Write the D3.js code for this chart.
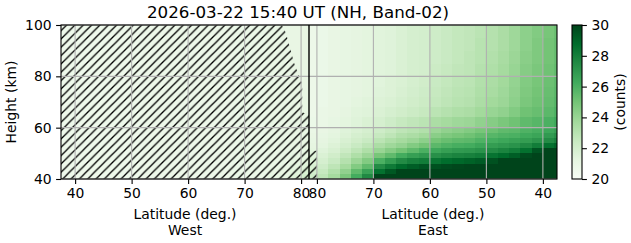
<!DOCTYPE html>
<html>
<head>
<meta charset="utf-8">
<script src="https://cdn.jsdelivr.net/npm/d3@7"></script>
<style>
  body { margin: 0; background: #fff; }
  svg { display: block; font-family: "DejaVu Sans", sans-serif; }
</style>
</head>
<body>
<svg id="chart" width="631" height="243"></svg>
<script>
const title = "2026-03-22 15:40 UT (NH, Band-02)";

const heightEdges = [40, 42, 44, 46, 48, 50, 52, 54, 56, 58, 60, 64, 68, 72, 76, 80, 85, 90, 95, 100];
const latTicks = [40, 50, 60, 70, 80];
const heightTicks = [40, 60, 80, 100];
const countTicks = [20, 22, 24, 26, 28, 30];

// west side columns (lat edges), values bottom -> top per column
const westEdges = [36, 44, 52, 60, 68, 74, 78, 80, 82];
const westCounts = [
  [20.6,20.6,20.6,20.6,20.6,20.6,20.6,20.6,20.6,20.6,20.6,20.6,20.6,20.6,20.6,20.6,20.6,20.6,20.6],
  [20.6,20.6,20.6,20.6,20.6,20.6,20.6,20.6,20.6,20.6,20.6,20.6,20.6,20.6,20.6,20.6,20.6,20.6,20.6],
  [20.7,20.7,20.7,20.7,20.7,20.7,20.7,20.7,20.7,20.7,20.7,20.7,20.7,20.7,20.7,20.7,20.7,20.7,20.7],
  [20.7,20.7,20.7,20.7,20.7,20.7,20.7,20.7,20.7,20.7,20.7,20.7,20.7,20.7,20.7,20.7,20.7,20.7,20.7],
  [20.8,20.8,20.8,20.8,20.8,20.8,20.8,20.8,20.8,20.8,20.8,20.8,20.8,20.8,20.8,20.8,20.8,20.8,20.8],
  [21.1,21.0,20.9,20.9,20.9,20.9,20.9,20.9,20.9,20.9,20.9,20.9,20.9,20.9,20.9,20.9,20.9,20.9,20.9],
  [21.6,21.4,21.3,21.2,21.1,21.0,21.0,21.0,21.0,21.0,21.0,21.0,21.0,21.0,21.0,21.0,21.0,21.0,21.0],
  [22.0,21.7,21.5,21.3,21.2,21.1,21.0,21.0,21.0,21.0,21.0,21.0,21.0,21.0,21.0,21.0,21.0,21.0,21.0]
];

// east side columns (lat edges, north -> south)
const eastEdges = [82, 80, 78, 76, 74, 72, 70, 68, 66, 64, 62, 60, 58, 56, 54, 52, 50, 48, 46, 44, 42, 40, 38, 36];
const eastCounts = [
  [22.2,22.0,21.8,21.6,21.4,21.3,21.2,21.1,21.0,20.9,20.8,20.7,20.7,20.7,20.7,20.7,20.7,20.7,20.7],
  [22.8,22.5,22.2,21.9,21.7,21.5,21.3,21.2,21.1,21.0,20.9,20.9,20.8,20.8,20.8,20.8,20.8,20.8,20.8],
  [23.6,23.2,22.8,22.4,22.1,21.8,21.6,21.4,21.3,21.2,21.1,21.0,21.0,21.0,21.0,21.0,21.0,21.0,21.0],
  [24.8,24.2,23.6,23.1,22.7,22.3,22.0,21.8,21.6,21.5,21.3,21.2,21.1,21.1,21.1,21.1,21.1,21.1,21.1],
  [26.2,25.5,24.6,23.9,23.3,22.8,22.4,22.1,21.9,21.7,21.5,21.4,21.3,21.2,21.2,21.2,21.2,21.2,21.2],
  [27.6,26.6,25.5,24.6,23.9,23.3,22.8,22.4,22.1,21.9,21.7,21.5,21.4,21.3,21.3,21.3,21.3,21.3,21.3],
  [30.0,28.6,27.5,26.0,24.9,24.0,23.4,22.9,22.5,22.2,21.9,21.7,21.6,21.5,21.4,21.4,21.4,21.4,21.4],
  [30.0,29.4,28.2,26.8,25.5,24.5,23.8,23.3,22.8,22.5,22.2,21.9,21.7,21.6,21.6,21.5,21.5,21.5,21.5],
  [30.0,30.0,28.8,27.5,26.2,25.0,24.1,23.6,23.2,22.8,22.5,22.1,21.9,21.8,21.7,21.7,21.7,21.7,21.7],
  [30.0,30.0,29.2,27.9,26.7,25.5,24.6,23.9,23.4,23.0,22.7,22.3,22.1,22.0,21.9,21.9,21.9,21.9,21.9],
  [30.0,30.0,29.5,28.1,27.0,26.0,25.0,24.3,23.7,23.2,22.9,22.5,22.3,22.2,22.1,22.0,22.0,22.0,22.0],
  [30.0,30.0,29.6,28.4,27.3,26.4,25.6,25.0,24.4,23.9,23.4,22.9,22.6,22.5,22.4,22.3,22.2,22.2,22.2],
  [30.0,30.0,29.8,28.7,27.6,26.7,25.9,25.3,24.7,24.2,23.6,23.1,22.8,22.7,22.6,22.5,22.4,22.4,22.4],
  [30.0,30.0,29.9,28.9,27.8,26.9,26.1,25.5,24.9,24.4,23.8,23.3,23.0,22.9,22.8,22.7,22.6,22.6,22.6],
  [30.0,30.0,30.0,29.1,27.9,27.0,26.2,25.6,25.1,24.6,23.9,23.4,23.1,23.0,22.9,22.8,22.8,22.7,22.7],
  [30.0,30.0,30.0,29.3,28.1,27.2,26.5,25.9,25.4,24.9,24.2,23.7,23.4,23.3,23.2,23.1,23.0,23.0,22.9],
  [30.0,30.0,30.0,29.6,28.5,27.5,26.8,26.2,25.7,25.2,24.5,24.0,23.7,23.5,23.4,23.3,23.2,23.1,23.1],
  [30.0,30.0,30.0,30.0,28.8,27.8,27.0,26.4,25.9,25.5,24.8,24.2,23.9,23.8,23.7,23.6,23.5,23.4,23.4],
  [30.0,30.0,30.0,30.0,29.2,28.1,27.2,26.6,26.0,25.6,25.1,24.6,24.3,24.2,24.1,24.0,23.9,23.8,23.8],
  [30.0,30.0,30.0,30.0,29.8,28.6,27.6,26.8,26.3,25.9,25.5,25.1,24.8,24.7,24.6,24.5,24.4,24.3,24.3],
  [30.0,30.0,30.0,30.0,30.0,29.5,28.1,27.1,26.5,26.1,25.7,25.3,25.1,25.0,24.9,24.8,24.7,24.7,24.6],
  [30.0,30.0,30.0,30.0,30.0,30.0,28.6,27.5,26.9,26.4,26.0,25.6,25.4,25.3,25.2,25.1,25.0,25.0,24.9],
  [30.0,30.0,30.0,30.0,30.0,30.0,29.0,27.9,27.3,26.7,26.3,25.9,25.7,25.6,25.5,25.4,25.3,25.3,25.2]
];

// outline of the hatched (night) region
const nightEdge = [
  { side: "W", lat: 37.5, h: 40 },
  { side: "W", lat: 37.5, h: 100 },
  { side: "W", lat: 76.6, h: 100 },
  { side: "W", lat: 77.3, h: 97 },
  { side: "W", lat: 77.8, h: 93 },
  { side: "W", lat: 78.3, h: 89 },
  { side: "W", lat: 78.8, h: 85 },
  { side: "W", lat: 79.5, h: 81 },
  { side: "W", lat: 80.2, h: 77 },
  { side: "W", lat: 80.2, h: 66 },
  { side: "W", lat: 81.4, h: 65 },
  { side: "W", lat: 81.4, h: 51 },
  { side: "E", lat: 80.0, h: 51 },
  { side: "E", lat: 80.0, h: 40 }
];

const greens = ["#f7fcf5", "#e5f5e0", "#c7e9c0", "#a1d99b", "#74c476", "#41ab5d", "#238b45", "#006d2c", "#00441b"];

const svg = d3.select("#chart");
const plotL = 61, plotR = 557, plotT = 25, plotB = 179, plotMid = 309;

const xWest = d3.scaleLinear().domain([37.5, 81.4]).range([plotL, plotMid]);
const xEast = d3.scaleLinear().domain([81.4, 37.5]).range([plotMid, plotR]);
const y = d3.scaleLinear().domain([40, 100]).range([plotB, plotT]);
const color = d3.scaleLinear()
  .domain(d3.range(greens.length).map(i => 20 + i * 10 / (greens.length - 1)))
  .range(greens)
  .clamp(true);

const defs = svg.append("defs");
defs.append("clipPath").attr("id", "clipW")
  .append("rect").attr("x", plotL).attr("y", plotT).attr("width", plotMid - plotL).attr("height", plotB - plotT);
defs.append("clipPath").attr("id", "clipE")
  .append("rect").attr("x", plotMid).attr("y", plotT).attr("width", plotR - plotMid).attr("height", plotB - plotT);
defs.append("clipPath").attr("id", "clipAll")
  .append("rect").attr("x", plotL).attr("y", plotT).attr("width", plotR - plotL).attr("height", plotB - plotT);

// matplotlib '//' hatch: 12 lines per inch
const hs = 100 / 12;
defs.append("pattern")
  .attr("id", "hatch")
  .attr("patternUnits", "userSpaceOnUse")
  .attr("width", hs).attr("height", hs)
  .append("path")
    .attr("d", `M0,${hs} L${hs},0 M${-hs / 2},${hs / 2} L${hs / 2},${-hs / 2} M${hs / 2},${hs * 1.5} L${hs * 1.5},${hs / 2}`)
    .attr("stroke", "#000")
    .attr("stroke-width", 1.3);

// heatmap cells
function drawCells(edges, counts, xs, clip) {
  const cells = [];
  counts.forEach((col, i) => {
    col.forEach((v, j) => {
      cells.push({ l0: edges[i], l1: edges[i + 1], h0: heightEdges[j], h1: heightEdges[j + 1], v });
    });
  });
  svg.append("g")
    .attr("clip-path", `url(#${clip})`)
    .selectAll("rect")
    .data(cells)
    .enter().append("rect")
      .attr("x", d => Math.min(xs(d.l0), xs(d.l1)))
      .attr("width", d => Math.abs(xs(d.l1) - xs(d.l0)))
      .attr("y", d => y(d.h1))
      .attr("height", d => y(d.h0) - y(d.h1))
      .attr("fill", d => color(d.v))
      .attr("shape-rendering", "crispEdges");
}
drawCells(westEdges, westCounts, xWest, "clipW");
drawCells(eastEdges, eastCounts, xEast, "clipE");

// hatched night region
const xPos = d => d.side === "W" ? xWest(d.lat) : xEast(d.lat);
svg.append("path")
  .attr("clip-path", "url(#clipAll)")
  .attr("d", d3.line().x(xPos).y(d => y(d.h))(nightEdge) + "Z")
  .attr("fill", "url(#hatch)");

// grid
const grid = svg.append("g").attr("stroke", "#b0b0b0").attr("stroke-width", 1.1);
latTicks.forEach(t => {
  [xWest(t), xEast(t)].forEach(x => {
    grid.append("line").attr("x1", x).attr("x2", x).attr("y1", plotT).attr("y2", plotB);
  });
});
heightTicks.forEach(t => {
  grid.append("line").attr("x1", plotL).attr("x2", plotR).attr("y1", y(t)).attr("y2", y(t));
});

// frame + separator
svg.append("rect")
  .attr("x", plotL).attr("y", plotT).attr("width", plotR - plotL).attr("height", plotB - plotT)
  .attr("fill", "none").attr("stroke", "#000").attr("stroke-width", 1.1);
svg.append("line")
  .attr("x1", plotMid).attr("x2", plotMid).attr("y1", plotT).attr("y2", plotB)
  .attr("stroke", "#000").attr("stroke-width", 1.4);

// axes
const fs = "13.9px";
function styleAxis(g) {
  g.select(".domain").remove();
  g.selectAll(".tick line").attr("stroke", "#000").attr("stroke-width", 1.1);
  g.selectAll(".tick text").attr("fill", "#000").style("font-size", fs).style("font-family", "DejaVu Sans");
}
svg.append("g").attr("transform", `translate(0,${plotB})`)
  .call(d3.axisBottom(xWest).tickValues(latTicks).tickSize(4.9).tickPadding(4.5))
  .call(styleAxis);
svg.append("g").attr("transform", `translate(0,${plotB})`)
  .call(d3.axisBottom(xEast).tickValues(latTicks).tickSize(4.9).tickPadding(4.5))
  .call(styleAxis);
svg.append("g").attr("transform", `translate(${plotL},0)`)
  .call(d3.axisLeft(y).tickValues(heightTicks).tickSize(4.9).tickPadding(4.5))
  .call(styleAxis);

// labels
svg.append("text").attr("x", 298).attr("y", 18).attr("text-anchor", "middle")
  .style("font-size", "16.7px").text(title);
[["West", (plotL + plotMid) / 2], ["East", (plotMid + plotR) / 2]].forEach(([name, cx]) => {
  svg.append("text").attr("x", cx).attr("y", 219).attr("text-anchor", "middle")
    .style("font-size", fs).text("Latitude (deg.)");
  svg.append("text").attr("x", cx).attr("y", 235).attr("text-anchor", "middle")
    .style("font-size", fs).text(name);
});
svg.append("text").attr("transform", `translate(15.5,${(plotT + plotB) / 2}) rotate(-90)`)
  .attr("text-anchor", "middle").style("font-size", fs).text("Height (km)");

// colorbar
const cbX = 572, cbW = 10;
const cbY = d3.scaleLinear().domain([20, 30]).range([plotB, plotT]);
const grad = defs.append("linearGradient").attr("id", "cbgrad")
  .attr("x1", 0).attr("y1", 1).attr("x2", 0).attr("y2", 0);
greens.forEach((c, i) => {
  grad.append("stop").attr("offset", i / (greens.length - 1)).attr("stop-color", c);
});
svg.append("rect").attr("x", cbX).attr("y", plotT).attr("width", cbW).attr("height", plotB - plotT)
  .attr("fill", "url(#cbgrad)").attr("stroke", "#000").attr("stroke-width", 1.1);
svg.append("g").attr("transform", `translate(${cbX + cbW},0)`)
  .call(d3.axisRight(cbY).tickValues(countTicks).tickSize(4.9).tickPadding(4.5))
  .call(styleAxis);
svg.append("text").attr("transform", `translate(625,${(plotT + plotB) / 2}) rotate(-90)`)
  .attr("text-anchor", "middle").style("font-size", fs).text("(counts)");
</script>
</body>
</html>
